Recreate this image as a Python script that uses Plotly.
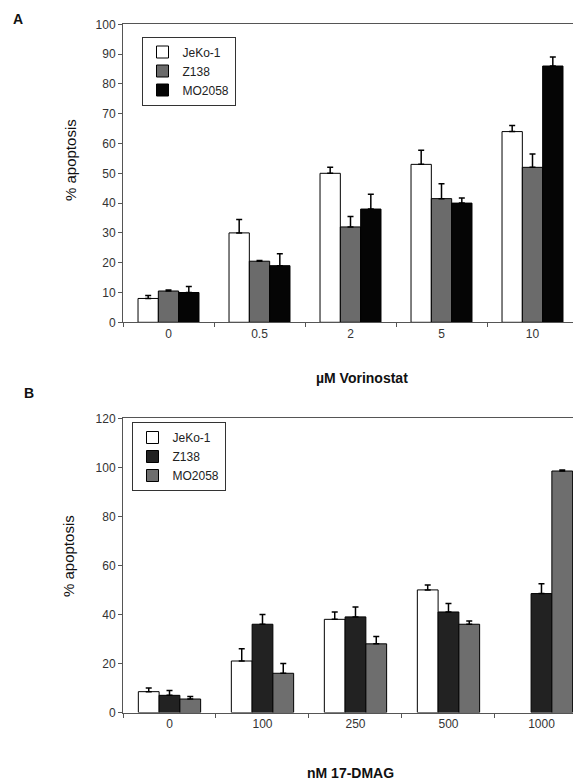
import plotly.graph_objects as go

# The page body has an 8px default margin; work in screenshot pixels
OFF = 8
W, H = 581 - OFF, 783 - OFF

# ---- Panel A data (µM Vorinostat) ----
cats_a = ["0", "0.5", "2", "5", "10"]
jeko_a = [8, 30, 50, 53, 64]
jeko_a_err = [1, 4.5, 2, 4.7, 2]
z138_a = [10.5, 20.5, 32, 41.5, 52]
z138_a_err = [0.3, 0.2, 3.5, 5, 4.5]
mo_a = [10, 19, 38, 40, 86]
mo_a_err = [2, 4, 5, 1.7, 3]

# ---- Panel B data (nM 17-DMAG) ----
cats_b = ["0", "100", "250", "500", "1000"]
jeko_b = [8.5, 21, 38, 50, None]
jeko_b_err = [1.5, 5, 3, 2, 0]
z138_b = [7, 36, 39, 41, 48.5]
z138_b_err = [2, 4, 4, 3.5, 4]
mo_b = [5.5, 16, 28, 36, 98.5]
mo_b_err = [1, 4, 3, 1.3, 0.4]

FONT = "Liberation Sans, Arial, sans-serif"

def px_x(p):
    return (p - OFF) / W

def px_y(p):
    return 1 - (p - OFF) / H

fig = go.Figure()

def add_bar(name, cats, vals, errs, color, xa, ya, legend):
    fig.add_trace(go.Bar(
        name=name, x=cats, y=vals, xaxis=xa, yaxis=ya, legend=legend,
        marker=dict(color=color, line=dict(color="black", width=1)),
        error_y=dict(type="data", symmetric=False, array=errs,
                     arrayminus=[0] * len(errs), color="black",
                     thickness=1.5, width=3),
    ))

add_bar("JeKo-1", cats_a, jeko_a, jeko_a_err, "white", "x", "y", "legend")
add_bar("Z138", cats_a, z138_a, z138_a_err, "#6b6b6b", "x", "y", "legend")
add_bar("MO2058", cats_a, mo_a, mo_a_err, "#050505", "x", "y", "legend")

add_bar("JeKo-1", cats_b, jeko_b, jeko_b_err, "white", "x2", "y2", "legend2")
add_bar("Z138", cats_b, z138_b, z138_b_err, "#222222", "x2", "y2", "legend2")
add_bar("MO2058", cats_b, mo_b, mo_b_err, "#6e6e6e", "x2", "y2", "legend2")

tickfont = dict(family=FONT, size=12, color="#333")
axline = dict(showline=True, linecolor="#555", linewidth=1, automargin=False)

legend_style = dict(bgcolor="white", bordercolor="#333", borderwidth=1,
                    font=dict(family=FONT, size=12, color="#222"),
                    xanchor="left", yanchor="top", itemwidth=30,
                    tracegroupgap=0)

fig.update_layout(
    width=W, height=H,
    margin=dict(l=0, r=0, t=0, b=0, autoexpand=False),
    paper_bgcolor="white", plot_bgcolor="white",
    barmode="group", bargap=0.33, bargroupgap=0,
    showlegend=True,
    xaxis=dict(domain=[px_x(123), px_x(578)], range=[-0.5, 4.5],
               type="category", tickson="boundaries", ticks="outside",
               ticklen=4, tickcolor="#555", tickfont=tickfont,
               mirror=True, anchor="y", showgrid=False, **axline),
    yaxis=dict(domain=[px_y(322.3), px_y(24.3)], range=[0, 100], dtick=10,
               ticks="outside", ticklen=4, tickcolor="#555", tickfont=tickfont,
               mirror=True, anchor="x", showgrid=False, zeroline=False, **axline),
    xaxis2=dict(domain=[px_x(123), 1.0], range=[-0.5, 4.425],
                type="category", tickson="boundaries", ticks="outside",
                ticklen=4, tickcolor="#555", tickfont=tickfont,
                mirror=True, anchor="y2", showgrid=False, **axline),
    yaxis2=dict(domain=[px_y(712.5), px_y(418.3)], range=[0, 120], dtick=20,
                ticks="outside", ticklen=4, tickcolor="#555", tickfont=tickfont,
                mirror=False, anchor="x2", showgrid=False, zeroline=False, **axline),
    legend=dict(x=px_x(141.5), y=px_y(36.5), **legend_style),
    legend2=dict(x=px_x(131.5), y=px_y(422), **legend_style),
)

ann = [
    dict(text="<b>A</b>", x=px_x(18), y=px_y(19), font=dict(size=14)),
    dict(text="<b>B</b>", x=px_x(29), y=px_y(393), font=dict(size=14)),
    dict(text="% apoptosis", x=px_x(70), y=px_y(160), textangle=-90,
         font=dict(size=15)),
    dict(text="% apoptosis", x=px_x(68), y=px_y(556), textangle=-90,
         font=dict(size=15)),
    dict(text="<b>µM Vorinostat</b>", x=px_x(362), y=px_y(378),
         font=dict(size=14)),
    dict(text="<b>nM 17-DMAG</b>", x=px_x(350), y=px_y(773),
         font=dict(size=14)),
]
for a in ann:
    a.update(xref="paper", yref="paper", showarrow=False,
             xanchor="center", yanchor="middle")
    a["font"].update(family=FONT, color="#111")
fig.update_layout(annotations=ann)

fig.write_html("out.html")
